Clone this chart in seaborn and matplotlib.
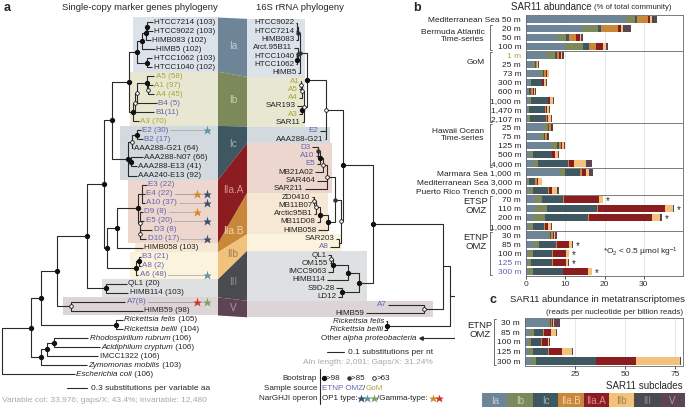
import numpy as np
import pandas as pd
import seaborn as sns
import matplotlib.pyplot as plt
from matplotlib import transforms

sns.set_theme(style='white')
plt.rcParams['font.family'] = ['Liberation Sans', 'DejaVu Sans']
plt.rcParams['mathtext.fontset'] = 'custom'
plt.rcParams['mathtext.rm'] = 'Liberation Sans'
plt.rcParams['mathtext.it'] = 'Liberation Sans:italic'

# ---------------- data ----------------
subclades = ['Ia', 'Ib', 'Ic', 'IIa.B', 'IIa.A', 'IIb', 'III', 'V']
sub_colors = ['#6d8597', '#7c8a5b', '#3e5761', '#c9873a', '#8b1d20', '#f2c27d', '#4a4b4f', '#5c4453']
sub_text = ['#c3ccd6', '#c6cdb0', '#9fb0b8', '#f1d3ae', '#d98f8f', '#9c7c4e', '#8d8d92', '#b09aa8']
sub_light = ['#dce2e9', '#e8e8d2', '#d2d9df', '#f6e8d4', '#edd6ce', '#fcf3de', '#dfe0e1', '#ddd4d8']

# panel b: SAR11 abundance (% of total community)
groups_b = [('Mediterranean Sea', 1), ('Bermuda Atlantic\nTime-series', 3), ('GoM', 8),
            ('Hawaii Ocean\nTime-series', 5), ('Marmara Sea', 1), ('Mediterranean Sea', 1),
            ('Puerto Rico Trench', 1), ('ETSP\nOMZ', 4), ('ETNP\nOMZ', 5)]
depth_b = ['50 m', '20 m', '50 m', '100 m', '1 m', '25 m', '73 m', '300 m', '600 m', '1,000 m',
           '1,470 m', '2,107 m', '25 m', '75 m', '125 m', '500 m', '4,000 m', '1,000 m', '3,000 m',
           '6,000 m', '70 m', '110 m', '200 m', '1,000 m', '30 m', '85 m', '100 m', '125 m', '300 m']
source_b = ['k'] * 4 + ['g'] + ['k'] * 22 + ['e', 'e']
ia_b = [25.4, 14.4, 8.0, 9.9, 5.4, 1.7, 3.6, 1.0, 0.4, 0.8, 0.6, 0.6, 4.6, 3.7, 6.3, 1.0, 1.7, 8.6,
        0.3, 1.0, 2.3, 2.3, 1.7, 0.8, 5.7, 2.0, 0.6, 0.6, 0.6]
ib_b = [2.3, 4.0, 2.3, 4.7, 2.0, 0.6, 0.8, 0.4, 0.3, 0.5, 0.2, 0.4, 0.9, 0.9, 1.5, 0.7, 1.4, 1.3,
        0.4, 0.7, 1.7, 3.0, 3.1, 0.9, 0.4, 1.4, 1.1, 0.8, 1.1]
ic_b = [0.6, 0.6, 0.7, 1.5, 0.4, 0.2, 0.3, 2.6, 0.7, 4.2, 4.0, 4.1, 0.3, 0.2, 0.5, 4.8, 7.7, 3.8,
        1.6, 4.0, 5.5, 12.9, 11.0, 3.0, 0.2, 4.2, 5.0, 5.3, 7.6]
iiab_b = [2.8, 4.5, 1.7, 1.7, 0.7, 0.2, 0.3, 0.2, 0.3, 0.2, 0.3, 0.2, 0.5, 0.5, 0.5, 0.2, 0.2, 0.5,
          0.6, 0.2, 0.2, 0.2, 0.3, 0.2, 0.5, 0.2, 0.1, 0.1, 0.2]
iiaa_b = [0.6, 0.8, 1.0, 1.7, 0.3, 0.2, 0.4, 0.4, 0.3, 0.4, 0.3, 0.3, 0.2, 0.2, 0.4, 0.7, 1.2, 1.2,
          0.2, 0.6, 8.9, 16.9, 16.1, 0.8, 0.3, 3.2, 3.5, 3.4, 6.3]
iib_b = [0.5, 0.4, 0.3, 0.8, 0.4, 0.2, 0.4, 0.5, 0.4, 0.8, 0.5, 0.7, 0.2, 0.2, 0.4, 0.8, 3.2, 0.7,
         1.1, 1.5, 0.9, 2.2, 2.0, 0.6, 0.2, 0.7, 0.6, 0.6, 0.9]
iii_b = [0.3, 0.5, 0.2, 0.2, 0.1, 0.0, 0.0, 0.1, 0.1, 0.1, 0.1, 0.1, 0.1, 0.1, 0.1, 0.1, 0.2, 0.2,
         0.0, 0.1, 0.1, 0.1, 0.2, 0.1, 0.2, 0.1, 0.1, 0.1, 0.1]
v_b = [0.9, 1.5, 0.4, 0.4, 0.4, 0.1, 0.1, 0.1, 0.1, 0.1, 0.1, 0.1, 0.1, 0.0, 0.2, 0.2, 1.1, 0.8,
       0.0, 0.4, 0.1, 0.1, 0.2, 0.1, 0.3, 0.1, 0.0, 0.1, 0.1]
low_o2_b = [False] * 20 + [True, True, True, False, False, True, True, True, True]
separators_b = [3, 11, 16, 19, 23]

# panel c: metatranscriptomes (reads per nucleotide per billion reads)
depth_c = ['30 m', '85 m', '100 m', '125 m', '300 m']
ia_c = [12.0, 2.0, 1.5, 1.5, 3.2]
ib_c = [0.5, 2.5, 1.3, 2.7, 2.1]
ic_c = [0.3, 4.7, 5.4, 7.5, 30.0]
iiab_c = [0.8, 0.3, 0.3, 0.5, 0.3]
iiaa_c = [0.3, 3.3, 3.0, 6.1, 19.7]
iib_c = [0.5, 2.5, 0.7, 5.0, 22.2]
iii_c = [0.2, 0.2, 0.1, 0.3, 0.3]
v_c = [2.9, 0.3, 0.2, 0.6, 0.4]


# trees: N(node_x, bootstrap, children), L(label, tip_x, colour kind)
# in labels, text between | marks is italic
def N(x, sup, kids):
    return ('N', x, sup, kids)


def L(txt, x, kind='k'):
    return ('L', txt, x, kind)


left_tree = N(2, None, [
    N(31, 'h', [
        N(41, 'h', [
            N(57, 'h', [
                N(87, 'h', [
                    N(104, 'h', [
                        N(112, 'h', [
                            N(129, 'h', [
                                N(137, 'h', [
                                    N(142, 'h', [
                                        N(146, 'h', [
                                            N(147, 'h', [L('HTCC7214 (103)', 153), L('HTCC9022 (103)', 153)]),
                                            L('HIMB083 (102)', 151)]),
                                        L('HIMB5 (102)', 155)]),
                                    N(147, 'h', [L('HTCC1062 (103)', 152), L('HTCC1040 (102)', 152)])]),
                                N(133, 'h', [
                                    N(135, 'o', [
                                        N(137, 'o', [
                                            N(147, 'h', [L('A5 (58)', 154, 'g'),
                                                         N(148, 'o', [L('A1 (97)', 153, 'g'), L('A4 (45)', 154, 'g')])]),
                                            L('B4 (5)', 157, 'e')]),
                                        L('B1(11)', 154, 'e')]),
                                    L('A3 (70)', 139, 'g')])]),
                            N(128, 'h', [
                                N(132, 'o', [
                                    N(137, 'h', [L('E2 (30)', 141, 'e'), L('B2 (17)', 143, 'e')]),
                                    L('AAA288-G21 (64)', 133)]),
                                N(131, 'h', [L('AAA288-N07 (66)', 143), L('AAA288-E13 (41)', 137)]),
                                L('AAA240-E13 (92)', 137)])]),
                        N(107, 'h', [
                            N(117, 'h', [
                                N(138, 'h', [
                                    N(142, None, [L('E3 (22)', 147, 'e'), L('E4 (22)', 145, 'e'), L('A10 (37)', 145, 'e')]),
                                    N(140, 'o', [L('D9 (8)', 143, 'e'), L('E5 (20)', 144, 'e'),
                                                 N(140, 'o', [L('D3 (8)', 152, 'e'), L('D10 (17)', 146, 'e')])])]),
                                L('HIMB058 (103)', 143)]),
                            N(136, 'h', [N(139, 'h', [L('B3 (21)', 141, 'e'), L('A8 (2)', 141, 'e')]),
                                         L('A6 (48)', 138, 'e')])])]),
                    N(106, 'h', [L('QL1 (20)', 127), L('HIMB114 (103)', 128)])]),
                N(71, 'o', [L('A7(8)', 125, 'e'), L('HIMB59 (98)', 143)])]),
            N(116, 'h', [L('|Rickettsia felis| (105)', 123), L('|Rickettsia bellii| (104)', 123)])]),
        N(41, 'h', [
            N(47, 'h', [
                N(54, 'h', [L('|Rhodospirillum rubrum| (106)', 88), L('|Acidiphilum cryptum| (106)', 100)]),
                L('IMCC1322 (106)', 98)]),
            L('|Zymomonas mobilis| (103)', 87)])]),
    L('|Escherichia coli| (106)', 75)])

right_tree = N(455, None, [
    N(450, None, [
        N(443, None, [
            N(373, 'h', [
                N(343, 'h', [
                    N(326, 'o', [
                        N(307, 'h', [
                            N(300, 'm', [
                                N(298, 'm', [N(297, None, [L('HTCC9022', 296), L('HTCC7214', 296)]), L('HIMB083', 296)]),
                                N(298, 'm', [L('Arct.95B11', 294), N(297, 'h', [L('HTCC1040', 296), L('HTCC1062', 296)])]),
                                L('HIMB5', 298)]),
                            N(304, 'o', [
                                N(302, 'o', [N(301, 'o', [L('A1', 301, 'g'), L('A5', 299, 'g')]), L('A4', 299, 'g')]),
                                N(302, 'h', [L('SAR193', 297), L('A3', 299, 'g')]),
                                L('SAR11', 302)])]),
                        L('E2', 320, 'e'), L('AAA288-G21', 325)]),
                    N(341, 'o', [
                        N(335, 'm', [
                            N(327, 'o', [
                                N(323, 'o', [N(320, 'h', [N(318, 'm', [L('D3', 312, 'e'), L('A10', 316, 'e')]),
                                                          L('E5', 317, 'e')]),
                                             L('MB21A02', 315)]),
                                L('SAR464', 317), L('SAR211', 305)]),
                            N(328, 'h', [
                                N(320, 'h', [N(316, 'o', [N(314, 'o', [L('ZD0410', 312), L('MB11B07', 314)]),
                                                          L('Arctic95B1', 314)]),
                                             L('MB11D08', 317)]),
                                L('HIMB058', 318)])]),
                        N(339, None, [L('SAR203', 336), L('A8', 330, 'e')])])]),
                N(359, 'h', [
                    N(348, 'h', [N(333, 'h', [N(331, 'o', [L('QL1', 328), L('OM155', 330)]), L('IMCC9063', 328)]),
                                 L('HIMB114', 327)]),
                    N(342, 'h', [L('S9D-28', 336), L('LD12', 338)])])]),
            N(424, 'o', [L('A7', 388, 'e'), L('HIMB59', 366)])]),
        N(387, 'h', [L('|Rickettsia felis|', 386), L('|Rickettsia bellii|', 384)])]),
    L('Other |alpha proteobacteria|', 421, 'arrow')])

# subclade extents as leaf index ranges (first, last) and band left/right edge
left_bands = [(0, 5, 133), (6, 11, 130), (12, 17, 120), (25, 25, 135), (18, 24, 128),
              (26, 28, 130), (29, 30, 102), (31, 32, 63)]
right_bands = [(0, 6, 305), (7, 12, 305), (13, 14, 330), (21, 25, 328), (15, 20, 332),
               (26, 27, 342), (28, 33, 367), (34, 35, 433)]

stars = [('E2 (30)', 1, '#5f95a3'), ('E4 (22)', 0, '#d4892a'), ('E4 (22)', 1, '#3d4f6e'),
         ('A10 (37)', 1, '#3d4f6e'), ('D9 (8)', 0, '#d4892a'), ('E5 (20)', 1, '#3d4f6e'),
         ('D10 (17)', 1, '#3d4f6e'), ('A6 (48)', 1, '#5f95a3'), ('A7(8)', 0, '#c8372d'),
         ('A7(8)', 1, '#7fa35d')]

KIND = {'k': '#222222', 'e': '#6264b0', 'g': '#aaa53a', 'arrow': '#222222'}
LINE = '#2a2a2a'

# ---------------- figure ----------------
W, H = 685, 407
fig = plt.figure(figsize=(W / 100, H / 100), dpi=100)
renderer = fig.canvas.get_renderer()


def rect(x0, y0, x1, y1):
    return [x0 / W, 1 - y1 / H, (x1 - x0) / W, (y1 - y0) / H]


def ftext(x, y, s, **kw):
    kw.setdefault('fontsize', 6)
    kw.setdefault('va', 'center')
    return fig.text(x / W, 1 - y / H, s, **kw)


def text_width(t):
    return t.get_window_extent(renderer=renderer).width


ax = fig.add_axes(rect(0, 0, 455, 407))
ax.set_xlim(0, 455)
ax.set_ylim(407, 0)
ax.axis('off')

LY0, LDY = 22, 9.03
RY0, RDY = 23, 8.29


def span(i0, i1, y0, dy):
    return y0 + i0 * dy - dy / 2, y0 + i1 * dy + dy / 2


# pale subclade bands behind both trees and ribbons between them
for k, name in enumerate(subclades):
    lt, lb = span(left_bands[k][0], left_bands[k][1], LY0, LDY)
    rt, rb = span(right_bands[k][0], right_bands[k][1], RY0, RDY)
    ax.fill([left_bands[k][2], 218, 218, left_bands[k][2]], [lt, lt, lb, lb], color=sub_light[k], lw=0, zorder=1)
    ax.fill([247, right_bands[k][2], right_bands[k][2], 247], [rt, rt, rb, rb], color=sub_light[k], lw=0, zorder=1)
    ax.fill([218, 247, 247, 218], [lt, rt, rb, lb], color=sub_colors[k], lw=0, zorder=2)
    ax.text(233, (lt + lb + rt + rb) / 4, name, ha='center', va='center', fontsize=7.2,
            color=sub_text[k], zorder=3)


def leaf_label(x, y, txt, side, color):
    # text pieces alternate regular / italic; returns right edge of the label
    pieces = [(p, i % 2 == 1) for i, p in enumerate(txt.split('|')) if p]
    if side > 0:
        for p, it in pieces:
            t = ax.text(x, y, p, fontsize=5.8, ha='left', va='center', color=color, zorder=5,
                        fontstyle='italic' if it else 'normal')
            x += text_width(t)
        return x
    for p, it in reversed(pieces):
        t = ax.text(x, y, p, fontsize=5.8, ha='right', va='center', color=color, zorder=5,
                    fontstyle='italic' if it else 'normal')
        x -= text_width(t)
    return x


leaf_pos = {}


def draw_tree(node, parent_x, state, side):
    if node[0] == 'L':
        _, txt, tx, kind = node
        y = state['y0'] + state['n'] * state['dy']
        state['n'] += 1
        ax.plot([parent_x, tx], [y, y], color=LINE, lw=0.8, zorder=4, solid_capstyle='butt')
        if kind == 'arrow':
            ax.plot(tx, y, marker='<', ms=2.5, color=LINE, zorder=5)
        end = leaf_label(tx + 1.5 * side - (3 if kind == 'arrow' else 0), y, txt, side, KIND[kind])
        leaf_pos[txt] = (end, y)
        return y
    _, x, sup, kids = node
    ys = [draw_tree(kid, x, state, side) for kid in kids]
    y = (ys[0] + ys[-1]) / 2
    ax.plot([x, x], [ys[0], ys[-1]], color=LINE, lw=0.8, zorder=4)
    if parent_x is not None:
        ax.plot([parent_x, x], [y, y], color=LINE, lw=0.8, zorder=4, solid_capstyle='butt')
    if sup == 'h':
        ax.plot(x, y, 'o', ms=2.8, color='#111', zorder=6)
    elif sup == 'm':
        ax.plot(x, y, 'o', ms=2.2, color='#333', zorder=6)
    elif sup == 'o':
        ax.plot(x, y, 'o', ms=2.6, mfc='white', mec='#111', mew=0.6, zorder=6)
    return y


draw_tree(left_tree, None, {'y0': LY0, 'dy': LDY, 'n': 0}, 1)
draw_tree(right_tree, None, {'y0': RY0, 'dy': RDY, 'n': 0}, -1)

for txt, slot, col in stars:
    x_end, y = leaf_pos[txt]
    sx = 197 + 10 * slot
    ax.plot([x_end + 1.5, sx - 4], [y, y], color='#a0a0a0', lw=0.5, zorder=4)
    ax.plot(sx, y, marker='*', ms=6.5, color=col, mec='none', zorder=6)

# panel a titles and notes
ax.text(4, 8, 'a', fontsize=9, fontweight='bold', va='center')
ax.text(140, 8, 'Single-copy marker genes phylogeny', fontsize=6.8, ha='center', va='center')
ax.text(300, 8, '16S rRNA phylogeny', fontsize=6.8, ha='center', va='center')
ax.text(413, 8, 'b', fontsize=9, fontweight='bold', va='center')

ax.plot([67, 87], [388, 388], color=LINE, lw=0.8)
ax.text(91, 388, '0.3 substitutions per variable aa', fontsize=6, va='center')
ax.text(2, 400, 'Variable col: 33,976; gaps/X: 43.4%; invariable: 12,480', fontsize=6,
        va='center', color='#a8a8a8')
ax.plot([327, 344], [352, 352], color=LINE, lw=0.8)
ax.text(348, 352, '0.1 substitutions per nt', fontsize=6, va='center')
ax.text(433, 362, 'Aln length: 2,091; Gaps/X: 31.24%', fontsize=6, va='center', ha='right', color='#a8a8a8')


def chain(x, y, parts, fs=5.8):
    # lay out text pieces and markers one after another
    for kind, content, color in parts:
        if kind == 'star':
            ax.plot(x + 3.2, y, marker='*', ms=6.3, color=color, mec='none', clip_on=False)
            x += 6.4
        elif kind == 'dot':
            ax.plot(x + 2, y, 'o', **content)
            x += 4.5
        else:
            t = ax.text(x, y, content, fontsize=fs, va='center', color=color)
            x += text_width(t)
    return x


ax.plot([319.5, 319.5], [369, 404], color=LINE, lw=0.8)
for y, s in [(378, 'Bootstrap'), (388, 'Sample source'), (398, 'NarGHJI operon')]:
    ax.text(317, y, s, fontsize=5.8, ha='right', va='center')
chain(322, 378, [('dot', dict(ms=2.8, color='#111'), None), ('t', '>98   ', '#222'),
                 ('dot', dict(ms=2.2, color='#333'), None), ('t', '>85   ', '#222'),
                 ('dot', dict(ms=2.6, mfc='white', mec='#111', mew=0.6), None), ('t', '>63', '#222')])
chain(322, 388, [('t', 'ETNP OMZ', KIND['e']), ('t', '/', '#222'), ('t', 'GoM', KIND['g'])])
chain(322, 398, [('t', 'OP1 type:', '#222'), ('star', None, '#3d4f6e'), ('star', None, '#5f95a3'),
                 ('star', None, '#7fa35d'), ('t', '/Gamma-type: ', '#222'), ('star', None, '#d4892a'),
                 ('star', None, '#c8372d')])


# ---------------- stacked bar panels ----------------
def stacked(axis, n_rows, values):
    ids = [f'r{i}' for i in range(n_rows)]
    df = pd.DataFrame({'row': ids, **dict(zip(subclades, values))})
    long = df.melt(id_vars='row', var_name='subclade', value_name='val')
    long['end'] = long.groupby('row')['val'].cumsum()
    for s, c in reversed(list(zip(subclades, sub_colors))):
        sns.barplot(data=long[long['subclade'] == s], x='end', y='row', order=ids, color=c,
                    saturation=1, width=0.8, linewidth=0, errorbar=None, orient='h', ax=axis)
    axis.set_xlabel('')
    axis.set_ylabel('')
    axis.set_ylim(n_rows - 0.5, -0.5)
    axis.set_axisbelow(True)
    axis.xaxis.grid(True, color='#e2e2e2', lw=0.6)
    for sp in axis.spines.values():
        sp.set_visible(True)
        sp.set_color('#666')
        sp.set_linewidth(0.6)
    axis.tick_params(axis='y', length=0, pad=3.5, labelsize=6, colors='#222')
    axis.tick_params(axis='x', length=2, pad=1.5, width=0.6, labelsize=6, colors='#333', bottom=True)
    return long.groupby('row', sort=False)['end'].max().values


ax_b = fig.add_axes(rect(526, 15, 683, 276))
totals_b = stacked(ax_b, len(depth_b), [ia_b, ib_b, ic_b, iiab_b, iiaa_b, iib_b, iii_b, v_b])
ax_b.set_xlim(0, 40)
ax_b.set_xticks([0, 10, 20, 30])
ax_b.set_xticklabels(['0', '10', '20', '30'])

labels_b = []
row = 0
bt = transforms.blended_transform_factory(ax_b.transAxes, ax_b.transData)
for name, n in groups_b:
    for d in depth_b[row:row + n]:
        labels_b.append(f'{name} {d}' if n == 1 else d)
    if n > 1:
        ax_b.plot([-0.218, -0.232, -0.232, -0.218], [row - 0.35, row - 0.35, row + n - 0.65, row + n - 0.65],
                  color='#555', lw=0.6, transform=bt, clip_on=False)
        if 'OMZ' in name:
            ax_b.text(-0.318, row + 0.7, name, transform=bt, ha='center', va='center', fontsize=6.8,
                      linespacing=1.0)
        else:
            ax_b.text(-0.265, row + 0.8, name, transform=bt, ha='right', va='center', fontsize=6,
                      multialignment='right', linespacing=1.05)
    row += n
ax_b.set_yticks(range(len(depth_b)))
ax_b.set_yticklabels(labels_b)
for lab, kind in zip(ax_b.get_yticklabels(), source_b):
    lab.set_color(KIND[kind])
for s in separators_b:
    ax_b.axhline(s + 0.5, color='#666', lw=0.6)
for i, flag in enumerate(low_o2_b):
    if flag:
        ax_b.text(totals_b[i] + 0.7, i + 0.15, '*', fontsize=7, va='center')

t_title = ftext(511, 7, 'SAR11 abundance ', fontsize=7)
ftext(511 + text_width(t_title), 7.5, '(% of total community)', fontsize=5.6)
ftext(603, 252, r'*O$_2$ < 0.5 µmol kg$^{-1}$', fontsize=6)

# panel c
ax_c = fig.add_axes(rect(525, 318, 683, 366))
stacked(ax_c, len(depth_c), [ia_c, ib_c, ic_c, iiab_c, iiaa_c, iib_c, iii_c, v_c])
ax_c.set_xlim(0, 79)
ax_c.set_xticks([25, 50, 75])
ax_c.set_xticklabels(['25', '50', '75'])
ax_c.set_yticks(range(len(depth_c)))
ax_c.set_yticklabels(depth_c)
ct = transforms.blended_transform_factory(ax_c.transAxes, ax_c.transData)
ax_c.plot([-0.182, -0.196, -0.196, -0.182], [-0.35, -0.35, 4.35, 4.35], color='#555', lw=0.6,
          transform=ct, clip_on=False)
ax_c.text(-0.285, 0.7, 'ETNP\nOMZ', transform=ct, ha='center', va='center', fontsize=6.8, linespacing=1.0)

ftext(489, 300, 'c', fontsize=9, fontweight='bold')
ftext(510, 300, 'SAR11 abundance in metatranscriptomes', fontsize=6.8)
ftext(683, 312, '(reads per nucleotide per billion reads)', fontsize=5.8, ha='right')

# subclade colour key
ax_k = fig.add_axes(rect(482, 393, 685, 408))
sns.barplot(x=subclades, y=[1] * len(subclades), hue=subclades, palette=sub_colors, width=1,
            saturation=1, linewidth=0, legend=False, ax=ax_k)
ax_k.set_ylim(0, 1)
ax_k.axis('off')
for i, (name, tc) in enumerate(zip(subclades, sub_text)):
    ax_k.text(i, 0.5, name, ha='center', va='center', fontsize=7, color=tc)
ftext(683, 386, 'SAR11 subclades', fontsize=7, ha='right')

fig.savefig('out.png', dpi=100)
